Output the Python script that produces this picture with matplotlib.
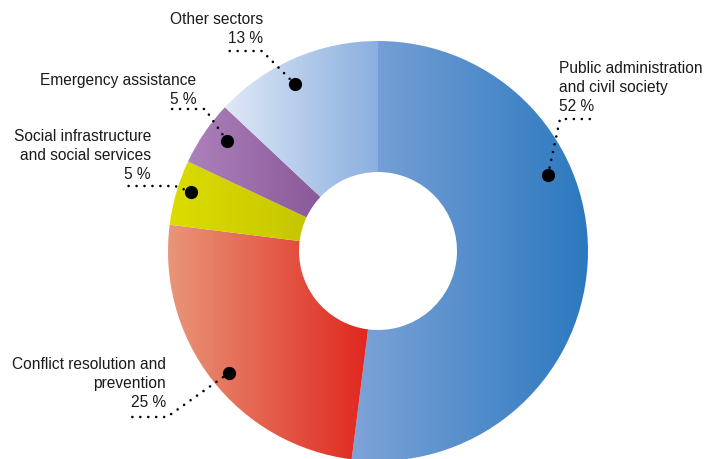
import numpy as np
import matplotlib
matplotlib.use("Agg")
import matplotlib.pyplot as plt
from matplotlib.patches import Wedge
from matplotlib.colors import to_rgb

# Sector shares (clockwise from 12 o'clock)
sectors = ["Public administration\nand civil society",
           "Conflict resolution and\nprevention",
           "Social infrastructure\nand social services",
           "Emergency assistance",
           "Other sectors"]
shares = [52, 25, 5, 5, 13]

# Horizontal gradient colours (left -> right) per sector
grad_left = ["#7ea3d8", "#e99679", "#dcdc00", "#ad81bb", "#dfe8f6"]
grad_right = ["#2b79bf", "#e0271f", "#c6c600", "#895898", "#8aafdf"]

W, H = 708, 460
fig = plt.figure(figsize=(W / 100, H / 100), dpi=100)
ax = fig.add_axes([0, 0, 1, 1])
ax.set_xlim(0, W)
ax.set_ylim(0, H)
ax.set_aspect("auto")
ax.axis("off")

cx, cy = 378, H - 252
r_out, r_in = 210, 79

total = float(sum(shares))
cum = np.concatenate([[0], np.cumsum(shares)]) / total
theta_start = 90 - cum[:-1] * 360
theta_end = 90 - cum[1:] * 360

for i in range(len(shares)):
    w = Wedge((cx, cy), r_out, theta_end[i], theta_start[i], width=r_out - r_in,
              facecolor="none", edgecolor="none")
    ax.add_patch(w)
    ext = w.get_path().get_extents()
    x0, x1 = ext.x0, ext.x1
    y0, y1 = ext.y0, ext.y1
    n = 256
    t = np.linspace(0, 1, n)[None, :, None]
    c0 = np.array(to_rgb(grad_left[i]))[None, None, :]
    c1 = np.array(to_rgb(grad_right[i]))[None, None, :]
    img = c0 * (1 - t) + c1 * t
    im = ax.imshow(img, extent=[x0, x1, y0, y1], origin="lower",
                   aspect="auto", interpolation="bilinear", zorder=1)
    im.set_clip_path(w)

ax.set_xlim(0, W)
ax.set_ylim(0, H)

# Annotation layout: anchor angle inside the sector, elbow, leader end, text anchor
dot_angle = [24, -140.7, 162.5, 143.9, 116.4]
dot_radius = [186, 192, 196, 187, 186]
elbow = [(560, 120), (167, 418), (175, 187), (205, 110), (262, 52)]
tail = [(597, 120), (130, 418), (128, 187), (172, 110), (228, 52)]
text_xy = [(559, 61), (166, 357), (151, 129), (196, 73), (263, 12)]
text_ha = ["left", "right", "right", "right", "right"]

for i in range(len(shares)):
    a = np.deg2rad(dot_angle[i])
    dx = cx + dot_radius[i] * np.cos(a)
    dy = cy + dot_radius[i] * np.sin(a)
    ex, ey = elbow[i][0], H - elbow[i][1]
    tx, ty = tail[i][0], H - tail[i][1]
    ax.plot([dx, ex, tx], [dy, ey, ty], color="black", lw=1.9,
            linestyle=(0, (0.01, 3.0)), dash_capstyle="round", zorder=3)
    ax.plot([dx], [dy], "o", color="black", markersize=8.5, zorder=4)
    label = f"{sectors[i]}\n{shares[i]} %"
    ax.text(text_xy[i][0], H - text_xy[i][1], label, ha=text_ha[i], va="top",
            fontsize=11.2, color="#1a1a1a", family="Liberation Sans",
            linespacing=1.33, zorder=5)

fig.savefig("out.png", dpi=100)
